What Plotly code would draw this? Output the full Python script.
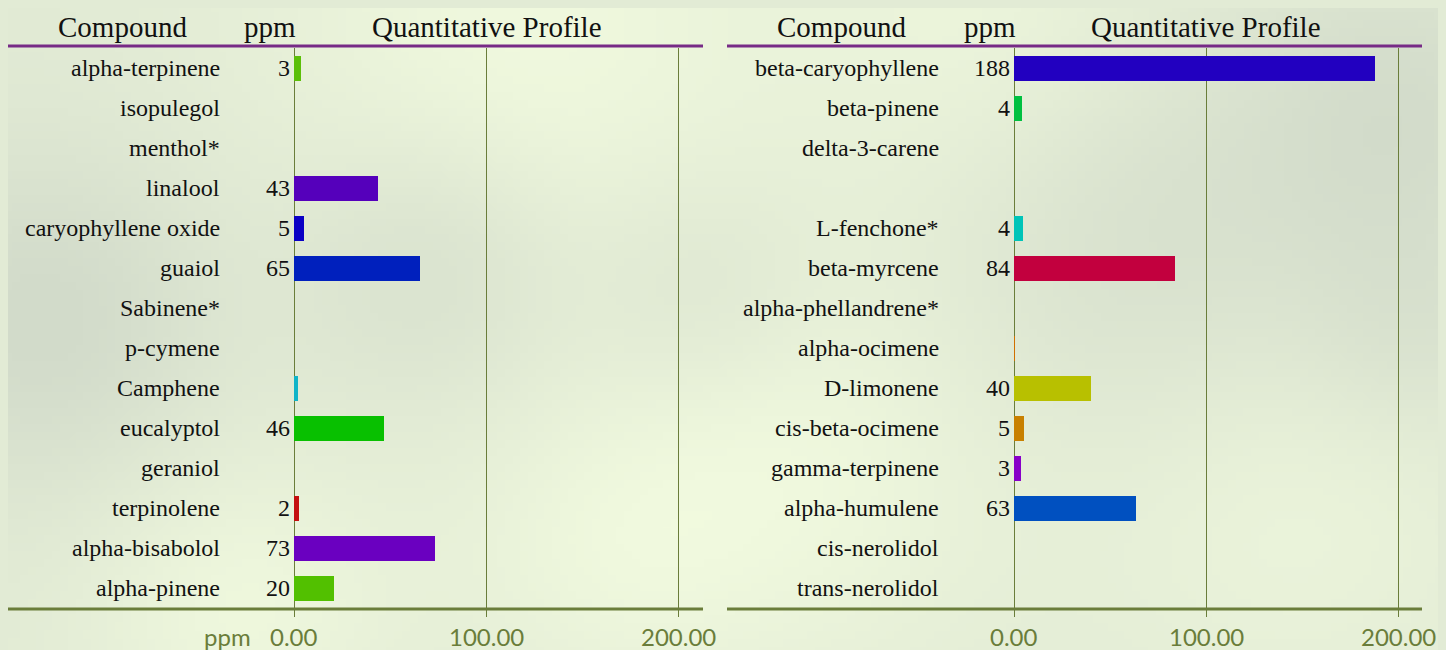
import base64, struct, zlib
import numpy as np
import plotly.graph_objects as go

# ---------------- data ----------------
left_compounds = ["alpha-terpinene", "isopulegol", "menthol*", "linalool", "caryophyllene oxide",
                  "guaiol", "Sabinene*", "p-cymene", "Camphene", "eucalyptol", "geraniol",
                  "terpinolene", "alpha-bisabolol", "alpha-pinene"]
left_values = [3.4, None, None, 43.6, 5.0, 65.6, None, None, 2.3, 46.9, None, 2.6, 73.4, 20.6]
left_labels = ["3", "", "", "43", "5", "65", "", "", "", "46", "", "2", "73", "20"]
left_colors = ["#5cbf08", "#000000", "#000000", "#5500bb", "#0a00c4", "#0020bd", "#000000", "#000000",
               "#10b4c8", "#08c000", "#000000", "#c41010", "#6a00c0", "#52c000"]

right_compounds = ["beta-caryophyllene", "beta-pinene", "delta-3-carene", "", "L-fenchone*",
                   "beta-myrcene", "alpha-phellandrene*", "alpha-ocimene", "D-limonene",
                   "cis-beta-ocimene", "gamma-terpinene", "alpha-humulene", "cis-nerolidol",
                   "trans-nerolidol"]
right_values = [188.2, 4.0, None, None, 4.5, 83.9, None, 0.5, 40.1, 5.0, 3.6, 63.4, None, None]
right_labels = ["188", "4", "", "", "4", "84", "", "", "40", "5", "3", "63", "", ""]
right_colors = ["#2200c0", "#00c040", "#000000", "#000000", "#00c4b8", "#c2003e", "#000000",
                "#d07000", "#b8c000", "#c88000", "#8800c8", "#0050c0", "#000000", "#000000"]

tick_vals = [0, 100, 200]
tick_text = ["0.00", "100.00", "200.00"]

# ---------------- geometry ----------------
W, H = 1446, 650
OFF = 8  # page body margin
def px(x):
    return (x - OFF) / W
def py(y):
    return 1 - (y - OFF) / H

OLIVE = "#6a7d3a"
PURPLE = "#772a86"
SERIF = "Liberation Serif, Times New Roman, serif"
TICKFONT = "Lato, Open Sans, sans-serif"
BASE = "#e2ebd5"

# ---------------- soft background image ----------------
def make_bg():
    w, h = 182, 82
    xs = np.linspace(0, W, w)[None, :] + OFF
    ys = np.linspace(0, H, h)[:, None] + OFF
    base = np.array([226, 235, 213], float)
    bright = np.array([240, 249, 222], float)
    grey = np.array([208, 217, 201], float)
    img = np.zeros((h, w, 3)) + base
    brights = [(520, 40, 260, 1.0), (800, 470, 220, 0.9), (240, 610, 160, 0.9),
               (1000, 30, 200, 0.8), (1290, 500, 220, 0.7), (600, 560, 160, 0.6)]
    greys = [(40, 320, 170, 0.9), (430, 260, 140, 0.7), (1150, 230, 220, 0.7),
             (1410, 110, 150, 0.7), (700, 290, 120, 0.5), (1420, 330, 120, 0.5)]
    for cx, cy, r, s in brights:
        g = s * np.exp(-((xs - cx) ** 2 + (ys - cy) ** 2) / r ** 2)
        img += g[..., None] * (bright - base)
    for cx, cy, r, s in greys:
        g = s * np.exp(-((xs - cx) ** 2 + (ys - cy) ** 2) / r ** 2)
        img += g[..., None] * (grey - base)
    arr = np.clip(img, 0, 255).astype(np.uint8)
    raw = b"".join(b"\x00" + row.tobytes() for row in arr)
    def chunk(t, d):
        c = t + d
        return struct.pack(">I", len(d)) + c + struct.pack(">I", zlib.crc32(c) & 0xffffffff)
    png = (b"\x89PNG\r\n\x1a\n" + chunk(b"IHDR", struct.pack(">IIBBBBB", w, h, 8, 2, 0, 0, 0))
           + chunk(b"IDAT", zlib.compress(raw, 9)) + chunk(b"IEND", b""))
    return "data:image/png;base64," + base64.b64encode(png).decode()

# ---------------- figure ----------------
fig = go.Figure()
rows = list(range(len(left_compounds)))

fig.add_trace(go.Bar(x=left_values, y=rows, orientation="h", width=0.625,
                     marker=dict(color=left_colors, line=dict(width=0)),
                     xaxis="x", yaxis="y", hoverinfo="x+y", showlegend=False))
fig.add_trace(go.Bar(x=right_values, y=rows, orientation="h", width=0.625,
                     marker=dict(color=right_colors, line=dict(width=0)),
                     xaxis="x2", yaxis="y2", hoverinfo="x+y", showlegend=False))

ydom = [py(608), py(48)]
xcommon = dict(tickvals=tick_vals, showticklabels=False, showgrid=True, gridcolor=OLIVE, gridwidth=1,
               zeroline=True, zerolinecolor=OLIVE, zerolinewidth=1, showline=False,
               ticks="outside", ticklen=8, tickcolor=OLIVE, tickwidth=1,
               automargin=False, fixedrange=True)
ycommon = dict(range=[13.5, -0.5], showgrid=False, zeroline=False, showticklabels=False,
               ticks="", showline=False, domain=ydom, automargin=False, fixedrange=True)

fig.update_layout(
    width=W, height=H, autosize=False, margin=dict(l=0, r=0, t=0, b=0, pad=0),
    paper_bgcolor=BASE, plot_bgcolor="rgba(0,0,0,0)",
    xaxis=dict(domain=[px(294), px(703)], range=[0, 213], anchor="y", **xcommon),
    xaxis2=dict(domain=[px(1014), px(1422)], range=[0, 212.5], anchor="y2", **xcommon),
    yaxis=dict(anchor="x", **ycommon),
    yaxis2=dict(anchor="x2", **ycommon),
    bargap=0, showlegend=False,
    images=[dict(source=make_bg(), xref="paper", yref="paper", x=0, y=1, sizex=1, sizey=1,
                 sizing="stretch", layer="below", xanchor="left", yanchor="top")],
)

annos = []
# headers
for cx_comp, cx_ppm, cx_prof in [(122, 270, 487), (842, 990, 1206)]:
    for txt, cx in [("Compound", cx_comp), ("ppm", cx_ppm), ("Quantitative Profile", cx_prof)]:
        annos.append(dict(text=txt, x=px(cx), y=py(27), xref="paper", yref="paper",
                          xanchor="center", yanchor="middle", showarrow=False,
                          font=dict(family=SERIF, size=29, color="#111111")))
# row labels and values
for names, labels, yref, xname, xval in [(left_compounds, left_labels, "y", 222, 292),
                                         (right_compounds, right_labels, "y2", 941, 1012)]:
    for i, (n, v) in enumerate(zip(names, labels)):
        if n:
            annos.append(dict(text=n, x=px(xname), y=i, xref="paper", yref=yref,
                              xanchor="right", yanchor="middle", showarrow=False,
                              font=dict(family=SERIF, size=24, color="#111111")))
        if v:
            annos.append(dict(text=v, x=px(xval), y=i, xref="paper", yref=yref,
                              xanchor="right", yanchor="middle", showarrow=False,
                              font=dict(family=SERIF, size=24, color="#111111")))
# tick labels along each x axis
for xr in ["x", "x2"]:
    for v, t in zip(tick_vals, tick_text):
        annos.append(dict(text=t, x=v, y=py(636), xref=xr, yref="paper",
                          xanchor="center", yanchor="middle", showarrow=False,
                          font=dict(family=TICKFONT, size=24, color=OLIVE)))
# "ppm" axis caption
annos.append(dict(text="ppm", x=px(253), y=py(636), xref="paper", yref="paper",
                  xanchor="right", yanchor="middle", showarrow=False,
                  font=dict(family=TICKFONT, size=24, color=OLIVE)))
fig.update_layout(annotations=annos)

shapes = []
for x0, x1 in [(7, 703), (727, 1422)]:
    shapes.append(dict(type="line", xref="paper", yref="paper", x0=px(x0), x1=px(x1),
                       y0=py(46), y1=py(46), line=dict(color=PURPLE, width=3)))
    shapes.append(dict(type="line", xref="paper", yref="paper", x0=px(x0), x1=px(x1),
                       y0=py(609), y1=py(609), line=dict(color=OLIVE, width=3)))
fig.update_layout(shapes=shapes)

fig.write_html("out.html",
               post_script="document.body.style.backgroundColor='%s';"
                           "document.documentElement.style.backgroundColor='%s';" % (BASE, BASE))
